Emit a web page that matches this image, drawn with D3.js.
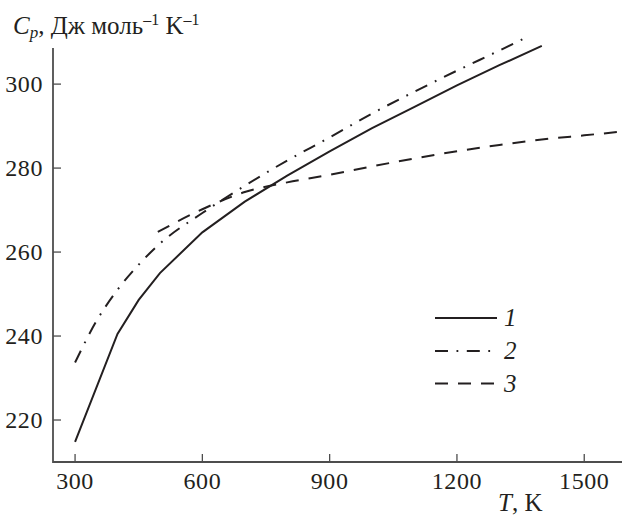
<!DOCTYPE html>
<html>
<head>
<meta charset="utf-8">
<script src="https://cdn.jsdelivr.net/npm/d3@7"></script>
<style>
  body { margin: 0; background: #fff; }
  text { font-family: "Liberation Serif", "Times New Roman", serif; fill: #231f20; }
</style>
</head>
<body>
<div id="chart"></div>
<script>
// curve 1 (solid)
const temps1 = [300, 400, 450, 500, 600, 700, 800, 900, 1000, 1100, 1200, 1300, 1400];
const cp1 = [214.8, 240.5, 248.6, 255, 264.7, 272, 278.2, 284, 289.5, 294.6, 299.7, 304.5, 309.1];
// curve 2 (dash-dot)
const temps2 = [300, 350, 400, 450, 500, 600, 700, 800, 900, 1000, 1100, 1200, 1300, 1355];
const cp2 = [233.7, 243.5, 251, 257, 262, 269.3, 275.8, 281.8, 287.3, 293, 298.2, 303.2, 308, 310.7];
// curve 3 (dashed)
const temps3 = [495, 600, 700, 800, 900, 1000, 1100, 1200, 1300, 1400, 1500, 1580];
const cp3 = [264.8, 270.2, 274.3, 276.6, 278.4, 280.4, 282.3, 284, 285.5, 286.8, 287.8, 288.6];

const xTicks = [300, 600, 900, 1200, 1500];
const yTicks = [220, 240, 260, 280, 300];
const legendLabels = ["1", "2", "3"];

const width = 622, height = 516;
const svg = d3.select('#chart').append('svg')
  .attr('width', width).attr('height', height);

// plot area
const m = { left: 53, right: 622, top: 48, bottom: 462 };

const x = d3.scaleLinear().domain([248, 1589]).range([m.left, m.right]);
const y = d3.scaleLinear().domain([210, 308.6]).range([m.bottom, m.top]);

const ink = '#231f20';
const axisColor = '#4d4d4d';

//Axis lines
svg.append('line')
  .attr('x1', m.left).attr('x2', m.left).attr('y1', m.top).attr('y2', m.bottom + 1)
  .attr('stroke', axisColor).attr('stroke-width', 1.8);
svg.append('line')
  .attr('x1', m.left).attr('x2', m.right).attr('y1', m.bottom).attr('y2', m.bottom)
  .attr('stroke', axisColor).attr('stroke-width', 1.8);

//Ticks (pointing inward)
svg.selectAll('.xtick').data(xTicks).enter().append('line')
  .attr('class', 'xtick')
  .attr('x1', d => x(d)).attr('x2', d => x(d))
  .attr('y1', m.bottom).attr('y2', m.bottom - 8)
  .attr('stroke', axisColor).attr('stroke-width', 1.3);
svg.selectAll('.ytick').data(yTicks).enter().append('line')
  .attr('class', 'ytick')
  .attr('x1', m.left).attr('x2', m.left + 8)
  .attr('y1', d => y(d)).attr('y2', d => y(d))
  .attr('stroke', axisColor).attr('stroke-width', 1.3);

//Tick labels
svg.selectAll('.xlab').data(xTicks).enter().append('text')
  .attr('class', 'xlab')
  .attr('x', d => x(d)).attr('y', 489)
  .attr('text-anchor', 'middle')
  .style('font-size', '24px').style('letter-spacing', '0.6px')
  .text(d => d);
svg.selectAll('.ylab').data(yTicks).enter().append('text')
  .attr('class', 'ylab')
  .attr('x', 43).attr('y', d => y(d) + 8)
  .attr('text-anchor', 'end')
  .style('font-size', '24px').style('letter-spacing', '0.6px')
  .text(d => d);

//Axis titles
const yTitle = svg.append('text').attr('x', 13).attr('y', 34).style('font-size', '25px');
yTitle.append('tspan').style('font-style', 'italic').text('C');
yTitle.append('tspan').style('font-style', 'italic').style('font-size', '17px').attr('dy', 4).text('p');
yTitle.append('tspan').attr('dy', -4).text(', Дж моль');
yTitle.append('tspan').style('font-size', '16px').attr('dy', -9).text('–1');
yTitle.append('tspan').attr('dy', 9).text(' K');
yTitle.append('tspan').style('font-size', '16px').attr('dy', -9).text('–1');

const xTitle = svg.append('text').attr('x', 498).attr('y', 511).style('font-size', '25px');
xTitle.append('tspan').style('font-style', 'italic').text('T');
xTitle.append('tspan').text(', K');

//Curves
const line = d3.line().x(d => x(d[0])).y(d => y(d[1]));
const smooth = d3.line().x(d => x(d[0])).y(d => y(d[1])).curve(d3.curveMonotoneX);

const styles = [
  { dash: null },
  { dash: '13,8.5,1.8,8.5' },
  { dash: '13,10' }
];

svg.append('path')
  .attr('d', line(d3.zip(temps1, cp1)))
  .attr('fill', 'none').attr('stroke', ink).attr('stroke-width', 2);
svg.append('path')
  .attr('d', smooth(d3.zip(temps2, cp2)))
  .attr('fill', 'none').attr('stroke', ink).attr('stroke-width', 2)
  .attr('stroke-dasharray', styles[1].dash);
svg.append('path')
  .attr('d', smooth(d3.zip(temps3, cp3)))
  .attr('fill', 'none').attr('stroke', ink).attr('stroke-width', 2)
  .attr('stroke-dasharray', styles[2].dash);

//Legend
const legendY = [318, 351, 383.5];
const lg = svg.selectAll('.legend').data(legendLabels).enter().append('g').attr('class', 'legend');
lg.append('line')
  .attr('x1', 435).attr('x2', 497)
  .attr('y1', (d, i) => legendY[i]).attr('y2', (d, i) => legendY[i])
  .attr('stroke', ink).attr('stroke-width', 2)
  .attr('stroke-dasharray', (d, i) => styles[i].dash);
lg.append('text')
  .attr('x', 504).attr('y', (d, i) => legendY[i] + 8)
  .style('font-size', '25px').style('font-style', 'italic')
  .text(d => d);
</script>
</body>
</html>
